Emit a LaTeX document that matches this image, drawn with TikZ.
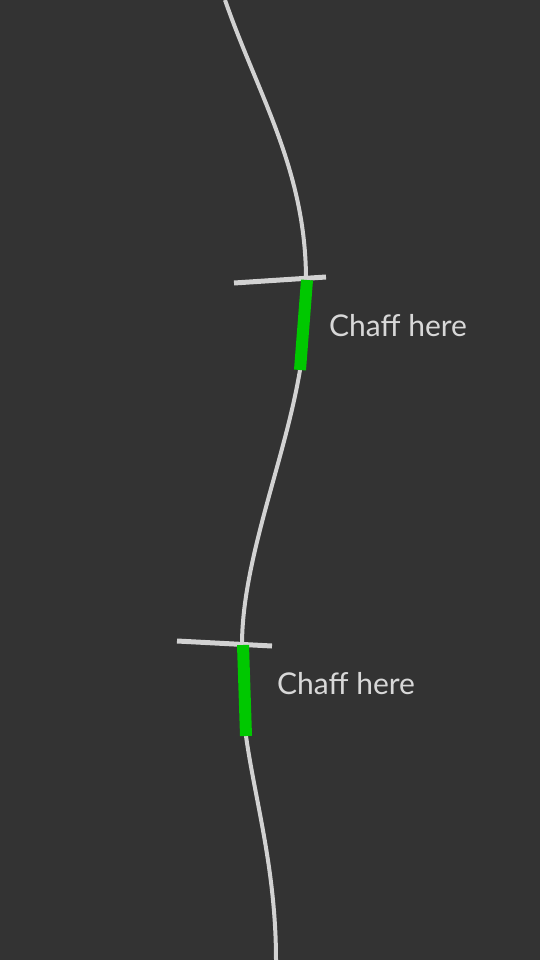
\documentclass[tikz,border=0pt]{standalone}
\usepackage{fontspec}
\setmainfont{Lato}
\usepackage{tikz}
\usetikzlibrary{positioning, calc}
\definecolor{board}{HTML}{333333}
\definecolor{wire}{HTML}{D2D2D2}
\definecolor{chaff}{HTML}{00C800}
\definecolor{note}{HTML}{D8D8D8}
\tikzset{
    wireline/.style={draw=wire, line width=4pt},
    tickline/.style={draw=wire, line width=5pt},
    chaffmark/.style={draw=chaff, line width=12pt},
    chafflabel/.style={anchor=west, text=note, font=\fontsize{30}{36}\selectfont, inner sep=0pt}
}

\begin{document}
\begin{tikzpicture}[x=1pt, y=-1pt]
    \fill[board] (0,0) rectangle (540,960);
    \useasboundingbox (0,0) rectangle (540,960);

    % THE STRAND
    \coordinate (top) at (225,0);
    \coordinate (a1) at (306,280);
    \coordinate (a2) at (300,370);
    \coordinate (b1) at (242,645);
    \coordinate (b2) at (246,736);
    \coordinate (bottom) at (276,960);
    \draw[wireline] (top) .. controls (258,95) and (306,170) .. (a1)
        .. controls (305,310) and (303,340) .. (a2)
        .. controls (285,460) and (242,560) .. (b1)
        .. controls (242,675) and (244,705) .. (b2)
        .. controls (255,800) and (276,870) .. (bottom);

    % CUTS AND CHAFF
    \foreach \s/\l/\r/\e/\n in {
        a1/{234,283}/{326,277}/a2/1,
        b1/{177,641}/{272,646}/b2/2}
    {
        \draw[tickline] (\l) -- (\r);
        \draw[chaffmark] ($(\s)+(1,0)$) -- (\e);
    }

    \node[chafflabel] (chaff1) at (329,326) {Chaff here};
    \node[chafflabel] (chaff2) at (277,684) {Chaff here};
\end{tikzpicture}
\end{document}
